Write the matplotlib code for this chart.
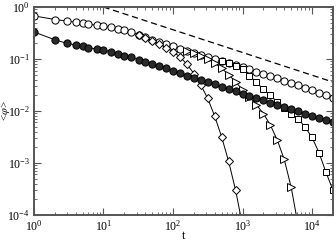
import matplotlib
matplotlib.use("Agg")
import matplotlib.pyplot as plt
from matplotlib.ticker import LogLocator, NullFormatter

plt.rcParams["font.family"] = ["Liberation Serif", "DejaVu Serif"]
plt.rcParams["mathtext.fontset"] = "stix"

# -----------------------------------------------------------------------------
# data
# -----------------------------------------------------------------------------
t = [1, 2, 3, 4, 5, 6, 8, 10, 13, 16, 20, 25, 32, 40, 50, 63, 79, 100, 126,
     158, 200, 251, 316, 398, 501, 631, 794, 1000, 1259, 1585, 1995, 2512,
     3162, 3981, 5012, 6310, 7943, 10000, 12589, 15849, 19953]

open_circ = [0.676, 0.575, 0.537, 0.513, 0.490, 0.468, 0.447, 0.427, 0.407,
             0.380, 0.355, 0.324, 0.295, 0.263, 0.234, 0.214, 0.195, 0.178,
             0.158, 0.145, 0.132, 0.120, 0.110, 0.100, 0.0912, 0.0832,
             0.0759, 0.0692, 0.0631, 0.0562, 0.0513, 0.0468, 0.0427, 0.0380,
             0.0347, 0.0316, 0.0282, 0.0251, 0.0224, 0.0200, 0.0178]

filled_circ = [0.331, 0.234, 0.200, 0.186, 0.174, 0.166, 0.155, 0.148, 0.138,
               0.126, 0.115, 0.107, 0.0977, 0.0891, 0.0813, 0.0724, 0.0661,
               0.0589, 0.0537, 0.0479, 0.0437, 0.0398, 0.0355, 0.0324,
               0.0295, 0.0263, 0.0240, 0.0214, 0.0195, 0.0178, 0.0162,
               0.0145, 0.0132, 0.0117, 0.0107, 0.00977, 0.00891, 0.00794,
               0.00724, 0.00661, 0.00617]

# the cut-off runs sit on the open circles at early times; only their own
# part (from t = t[start]) is listed
diamond_start = 12
diamond = [0.295, 0.257, 0.224, 0.195, 0.166, 0.138, 0.110, 0.0794, 0.0525,
           0.0316, 0.0174, 0.00794, 0.00316, 0.00107, 0.000302, 0.000063]

triangle_start = 19
triangle = [0.145, 0.132, 0.115, 0.100, 0.0832, 0.0661, 0.0501, 0.0363,
            0.0257, 0.0186, 0.0132, 0.00891, 0.00537, 0.00275, 0.00117,
            0.000339, 0.000063]

square_start = 24
square = [0.0912, 0.0832, 0.0741, 0.0631, 0.0479, 0.0355, 0.0263, 0.0200,
          0.0148, 0.0112, 0.00891, 0.00708, 0.00490, 0.00309, 0.00158,
          0.000661, 0.000302]

# power-law guide
guide_t = [10, 20000]
guide_y = [1.0, 0.036]

# -----------------------------------------------------------------------------
# plot
# -----------------------------------------------------------------------------
fig = plt.figure(figsize=(3.36, 2.42), dpi=100)
ax = fig.add_axes([0.101, 0.112, 0.890, 0.859])

line_kw = dict(color="black", lw=0.7, mec="black", mew=0.7)


def t_from(start, ys):
    return t[start:start + len(ys)]


ax.plot(t_from(square_start, square), square, marker="s", ms=4.8,
        mfc="white", **line_kw)
ax.plot(t_from(triangle_start, triangle), triangle, marker=">", ms=5.5,
        mfc="white", **line_kw)
ax.plot(t_from(diamond_start, diamond), diamond, marker="D", ms=4.0,
        mfc="white", **line_kw)
ax.plot(t, open_circ, marker="o", ms=5.2, mfc="white", zorder=1.9, **line_kw)
ax.plot(t, filled_circ, marker="o", ms=5.2, mfc="#2a2a2a", **line_kw)
ax.plot(guide_t, guide_y, ls=(0, (5, 3)), color="black", lw=0.9)

ax.set_xscale("log")
ax.set_yscale("log")
ax.set_xlim(1, 20000)
ax.set_ylim(1e-4, 1)

ax.xaxis.set_major_locator(LogLocator(base=10, numticks=10))
ax.xaxis.set_minor_locator(LogLocator(base=10, subs=range(2, 10), numticks=20))
ax.xaxis.set_minor_formatter(NullFormatter())
ax.yaxis.set_minor_locator(LogLocator(base=10, subs=range(2, 10), numticks=20))
ax.yaxis.set_minor_formatter(NullFormatter())

ax.tick_params(which="both", direction="in", top=True, right=True,
               color="#555555", labelsize=8.5, pad=3)
ax.tick_params(which="major", length=5, width=0.8)
ax.tick_params(which="minor", length=2.5, width=0.6)
for s in ax.spines.values():
    s.set_color("#555555")
    s.set_linewidth(1.4)

ax.set_xlabel("t", fontsize=9)
ax.set_ylabel(r"<$\varphi$>", fontsize=8)
ax.xaxis.set_label_coords(0.5, -0.075)
ax.yaxis.set_label_coords(-0.074, 0.5)

fig.savefig("out.png", dpi=100)
